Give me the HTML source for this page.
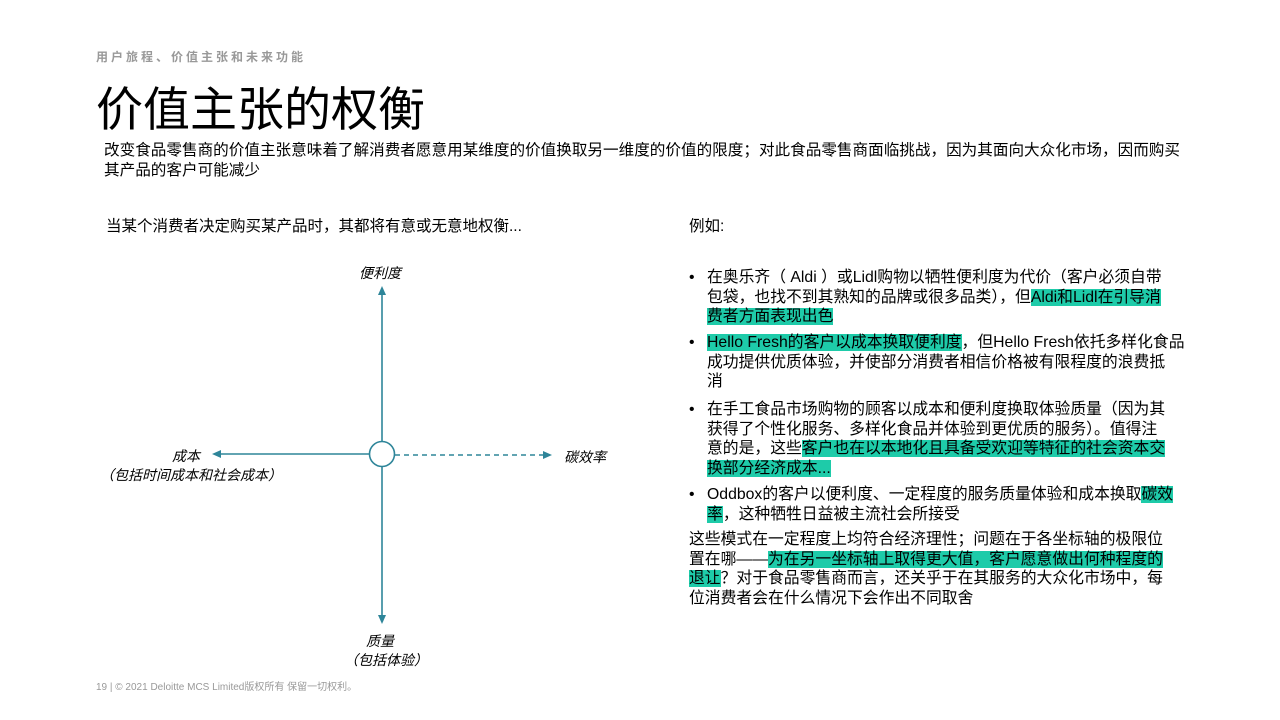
<!DOCTYPE html>
<html><head><meta charset="utf-8"><style>
body{margin:0;width:1280px;height:720px;background:#fff;position:relative;overflow:hidden;font-family:"Liberation Sans","Noto Sans CJK SC",sans-serif;color:#000}
.a{position:absolute;white-space:nowrap}
.h{background:#1ecba9}
.blk{position:absolute;left:707px;font-size:15.8px;line-height:19.5px;white-space:nowrap}
.b:before{content:"•";position:absolute;left:-18px;top:0}
.it{font-style:italic;font-size:14px}
</style></head><body>
<div class="a" style="left:96px;top:48px;font-size:12px;color:#999;letter-spacing:3px;font-weight:bold">用户旅程、价值主张和未来功能</div>
<div class="a" style="left:96px;top:78px;font-size:47px;line-height:64px">价值主张的权衡</div>
<div class="a" style="left:104px;top:141px;font-size:15.6px;line-height:19.5px">改变食品零售商的价值主张意味着了解消费者愿意用某维度的价值换取另一维度的价值的限度；对此食品零售商面临挑战，因为其面向大众化市场，因而购买<br>其产品的客户可能减少</div>
<div class="a" style="left:106px;top:214px;font-size:15.5px">当某个消费者决定购买某产品时，其都将有意或无意地权衡...</div>
<div class="a" style="left:689px;top:214px;font-size:15.5px">例如:</div>

<svg class="a" style="left:0;top:0" width="1280" height="720">
<g stroke="#2e8599" stroke-width="1.6" fill="#2e8599">
<line x1="382" y1="292" x2="382" y2="441"/>
<line x1="382" y1="467" x2="382" y2="618"/>
<line x1="218" y1="454" x2="369" y2="454"/>
<line x1="395" y1="455" x2="546" y2="455" stroke-dasharray="5,4"/>
<polygon points="382,286 378,295 386,295" stroke="none"/>
<polygon points="382,624 378,615 386,615" stroke="none"/>
<polygon points="212,454 221,450 221,458" stroke="none"/>
<polygon points="552,455 543,451 543,459" stroke="none"/>
<circle cx="382" cy="454" r="12.5" fill="#fff"/>
</g></svg>
<div class="a it" style="left:359px;top:263px">便利度</div>
<div class="a it" style="left:172px;top:446px">成本</div>
<div class="a it" style="left:100px;top:465px">（包括时间成本和社会成本）</div>
<div class="a it" style="left:564px;top:447px">碳效率</div>
<div class="a it" style="left:366px;top:631px">质量</div>
<div class="a it" style="left:344px;top:650px">（包括体验）</div>

<div class="blk b" style="top:268px">在奥乐齐（ Aldi ）或Lidl购物以牺牲便利度为代价（客户必须自带<br>包袋，也找不到其熟知的品牌或很多品类），但<span class="h">Aldi和Lidl在引导消</span><br><span class="h">费者方面表现出色</span></div>
<div class="blk b" style="top:333px"><span class="h">Hello Fresh的客户以成本换取便利度</span>，但Hello Fresh依托多样化食品<br>成功提供优质体验，并使部分消费者相信价格被有限程度的浪费抵<br>消</div>
<div class="blk b" style="top:400px">在手工食品市场购物的顾客以成本和便利度换取体验质量（因为其<br>获得了个性化服务、多样化食品并体验到更优质的服务）。值得注<br>意的是，这些<span class="h">客户也在以本地化且具备受欢迎等特征的社会资本交</span><br><span class="h">换部分经济成本...</span></div>
<div class="blk b" style="top:485px">Oddbox的客户以便利度、一定程度的服务质量体验和成本换取<span class="h">碳效</span><br><span class="h">率</span>，这种牺牲日益被主流社会所接受</div>
<div class="blk" style="top:530px;left:689px">这些模式在一定程度上均符合经济理性；问题在于各坐标轴的极限位<br>置在哪——<span class="h">为在另一坐标轴上取得更大值，客户愿意做出何种程度的</span><br><span class="h">退让</span>？对于食品零售商而言，还关乎于在其服务的大众化市场中，每<br>位消费者会在什么情况下会作出不同取舍</div>
<div class="a" style="left:96px;top:678px;font-size:10px;color:#999">19 | © 2021 Deloitte MCS Limited版权所有 保留一切权利。</div>
</body></html>
